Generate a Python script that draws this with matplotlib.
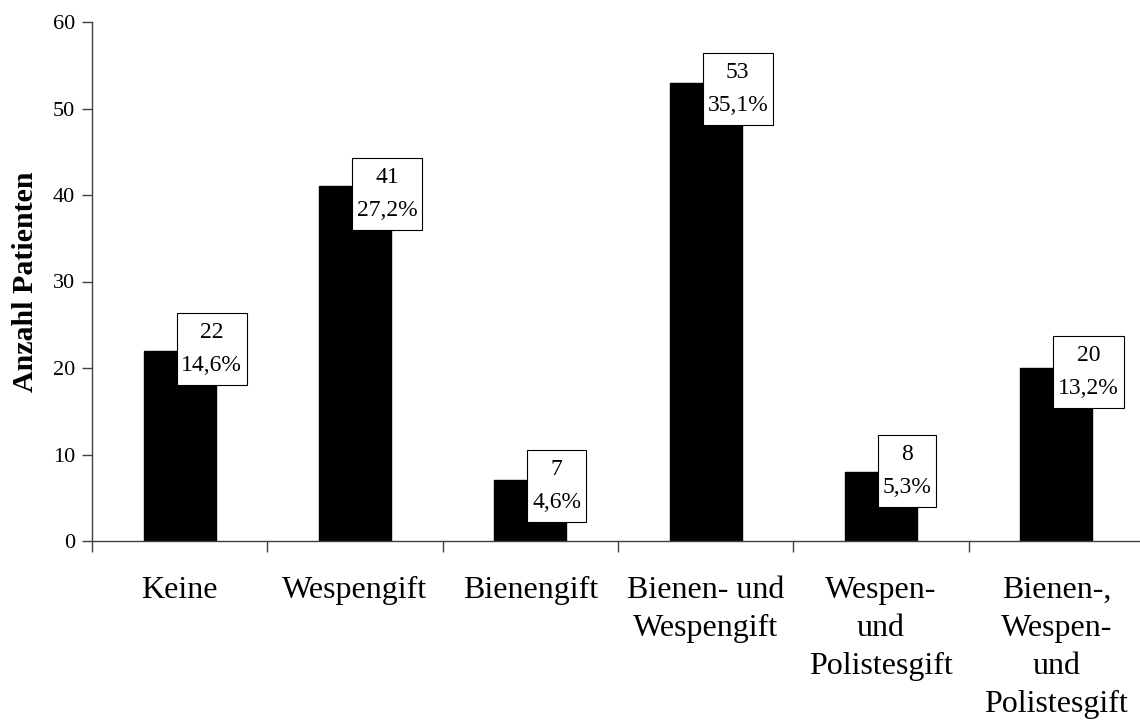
import matplotlib.pyplot as plt
import numpy as np

# Sensibilisierung nach Giftart
categories = ["Keine", "Wespengift", "Bienengift", "Bienen- und\nWespengift",
              "Wespen-\nund\nPolistesgift", "Bienen-,\nWespen-\nund\nPolistesgift"]
counts = [22, 41, 7, 53, 8, 20]
percents = ["14,6%", "27,2%", "4,6%", "35,1%", "5,3%", "13,2%"]
# vertical shift of each value box relative to the bar top
label_shift = [0.25, -0.9, -0.6, -0.7, 0.05, -0.5]

plt.rcParams['font.family'] = ['Liberation Serif', 'DejaVu Serif']

fig = plt.figure(figsize=(11.4, 7.22), dpi=100)
ax = fig.add_axes([92 / 1140, 1 - 541 / 722, (1144 - 92) / 1140, (541 - 22) / 722])

x = np.arange(len(categories))
ax.bar(x, counts, width=0.41, color='black', edgecolor='black', zorder=2)

for xi, n, p, s in zip(x, counts, percents, label_shift):
    ax.text(xi + 0.01, n + s, f"{n}\n{p}", ha='left', va='center',
            multialignment='center', fontsize=17, linespacing=1.75, zorder=3,
            bbox=dict(boxstyle='square,pad=0.2', facecolor='white',
                      edgecolor='black', linewidth=0.8, mutation_aspect=1.9))

ax.set_xlim(-0.5, len(categories) - 0.5)
ax.set_ylim(0, 60)
ax.set_yticks(range(0, 61, 10))
ax.tick_params(axis='y', direction='out', length=7, width=1, color='#404040',
               labelsize=16, pad=5)

# boundaries between categories get the tick marks, names sit in between
ax.set_xticks(np.arange(-0.5, len(categories), 1.0))
ax.set_xticklabels([])
ax.set_xticks(x, minor=True)
ax.set_xticklabels(categories, minor=True, fontsize=23, linespacing=1.42, va='top')
ax.tick_params(axis='x', which='major', direction='out', length=8, width=1,
               color='#404040')
ax.tick_params(axis='x', which='minor', length=0, pad=25)

ax.set_ylabel("Anzahl Patienten", fontsize=21.5, fontweight='bold', labelpad=10)

for side in ['top', 'right']:
    ax.spines[side].set_visible(False)
for side in ['left', 'bottom']:
    ax.spines[side].set_color('#404040')
    ax.spines[side].set_linewidth(1)

fig.savefig('out.png', dpi=100)
